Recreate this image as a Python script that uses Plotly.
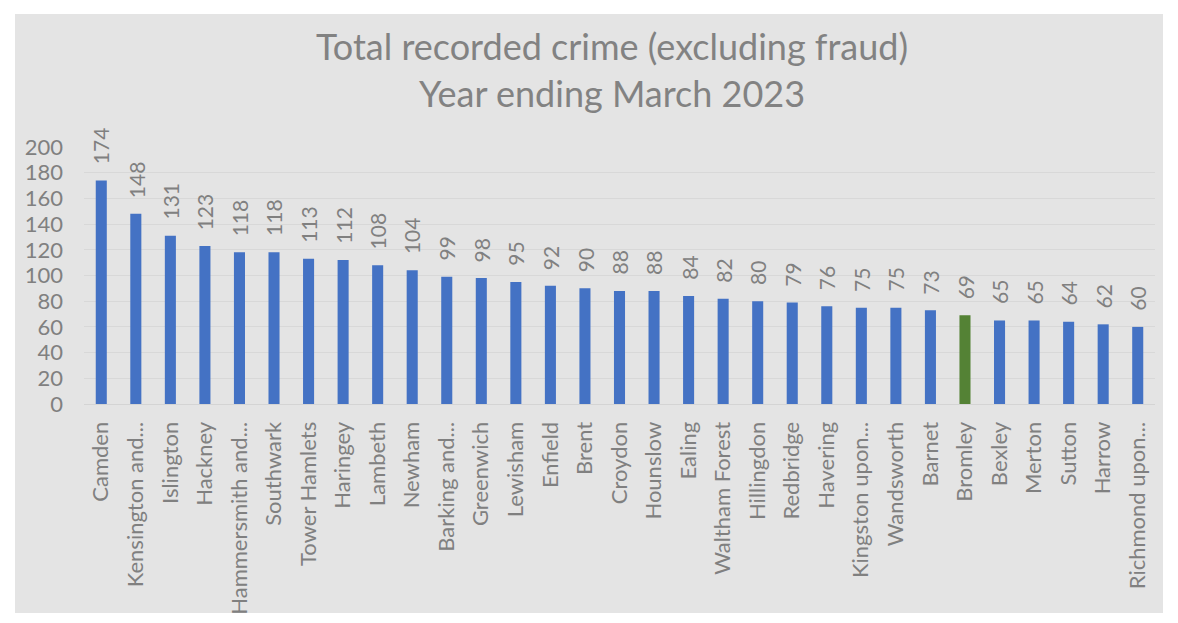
import plotly.graph_objects as go

boroughs = [
    "Camden", "Kensington and...", "Islington", "Hackney", "Hammersmith and...",
    "Southwark", "Tower Hamlets", "Haringey", "Lambeth", "Newham",
    "Barking and...", "Greenwich", "Lewisham", "Enfield", "Brent",
    "Croydon", "Hounslow", "Ealing", "Waltham Forest", "Hillingdon",
    "Redbridge", "Havering", "Kingston upon...", "Wandsworth", "Barnet",
    "Bromley", "Bexley", "Merton", "Sutton", "Harrow", "Richmond upon...",
]
crime_rate = [
    174, 148, 131, 123, 118, 118, 113, 112, 108, 104,
    99, 98, 95, 92, 90, 88, 88, 84, 82, 80,
    79, 76, 75, 75, 73, 69, 65, 65, 64, 62, 60,
]
highlight = "Bromley"
title_lines = ["Total recorded crime (excluding fraud)", "Year ending March 2023"]

y_ticks = list(range(0, 201, 20))

BLUE = "#4472c4"
GREEN = "#548235"
GREY_TEXT = "#808080"
FONT = "Lato"

W, H = 1178, 623
L, R, T, B = 84, 23, 147, 219
pw, ph = W - L - R, H - T - B


def px_to_paper_x(px):
    return (px - L) / pw


def px_to_paper_y(py):
    return (H - B - py) / ph


colors = [GREEN if b == highlight else BLUE for b in boroughs]

fig = go.Figure()
fig.add_trace(go.Bar(
    x=boroughs,
    y=crime_rate,
    marker=dict(color=colors, line=dict(width=0)),
    hoverinfo="x+y",
))

# rotated value labels above each bar
for b, v in zip(boroughs, crime_rate):
    fig.add_annotation(
        x=b, y=v, xref="x", yref="y",
        text=str(v), showarrow=False, textangle=-90,
        xanchor="center", yanchor="bottom", yshift=14,
        font=dict(family=FONT, size=21, color=GREY_TEXT),
    )

# two-line title
for text, cy in zip(title_lines, [46, 93]):
    fig.add_annotation(
        x=px_to_paper_x(612), y=px_to_paper_y(cy), xref="paper", yref="paper",
        text=text, showarrow=False, xanchor="center", yanchor="middle",
        font=dict(family=FONT, size=36, color="#828282"),
    )

# grey chart panel on a white page
fig.add_shape(
    type="rect", xref="paper", yref="paper", layer="below",
    x0=px_to_paper_x(15), x1=px_to_paper_x(1163),
    y0=px_to_paper_y(613), y1=px_to_paper_y(14),
    fillcolor="#e4e4e4", line=dict(width=0),
)

fig.update_layout(
    width=W, height=H,
    margin=dict(l=L, r=R, t=T, b=B, autoexpand=False),
    paper_bgcolor="white",
    plot_bgcolor="rgba(0,0,0,0)",
    showlegend=False,
    bargap=0.68,
    font=dict(family=FONT, color=GREY_TEXT),
)
fig.update_xaxes(
    tickangle=-90, tickfont=dict(family=FONT, size=22, color=GREY_TEXT),
    showgrid=False, showline=True, linecolor="#d4d4d4", linewidth=1,
    ticks="", ticklabelstandoff=8, automargin=False,
)
fig.update_yaxes(
    range=[0, 200], tickvals=y_ticks,
    tickfont=dict(family=FONT, size=22, color=GREY_TEXT),
    showgrid=True, gridcolor="#d8d8d8", gridwidth=1,
    zeroline=False, showline=False, ticks="", ticklabelstandoff=20,
    automargin=False,
)

fig.write_html("out.html")
